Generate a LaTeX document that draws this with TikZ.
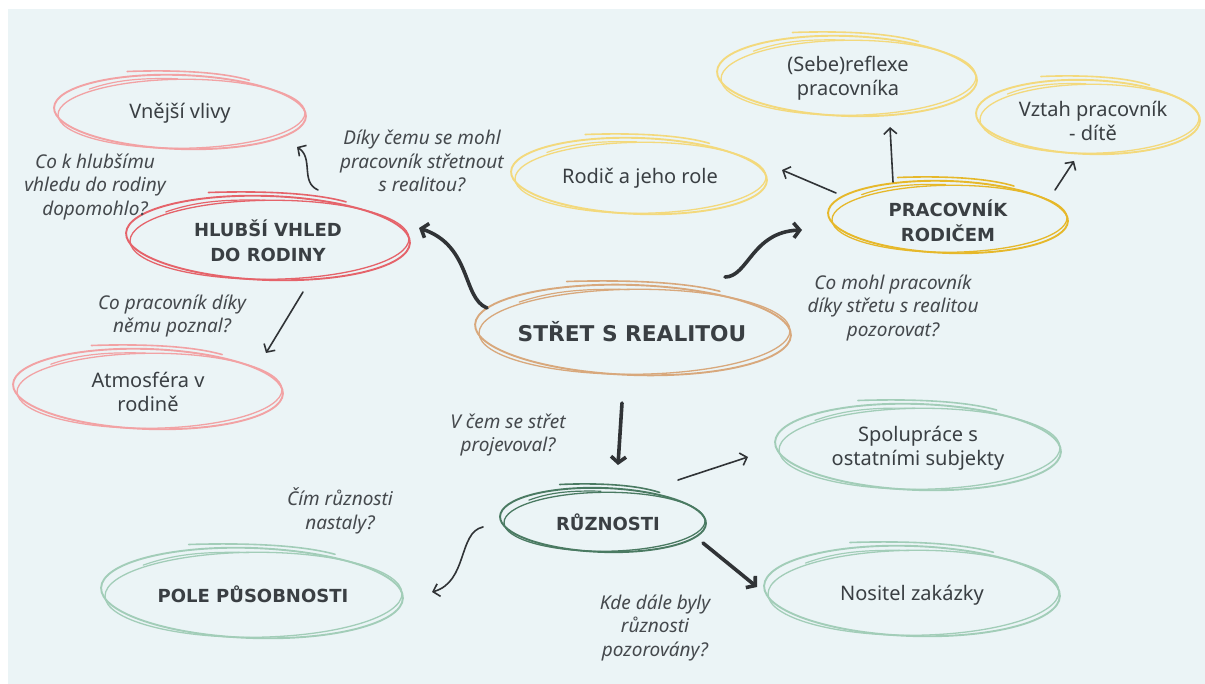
\documentclass[tikz,border=0pt]{standalone}
\usepackage{fontspec}
\setmainfont{Noto Sans}
\newfontfamily\boldfam{DejaVu Sans}
\usetikzlibrary{arrows.meta}
\definecolor{bg}{HTML}{EBF4F6}
\definecolor{txt}{HTML}{3A3F43}
\definecolor{qtxt}{HTML}{45494D}
\definecolor{arr}{HTML}{303336}
\definecolor{redS}{HTML}{E5636A}
\definecolor{pinkS}{HTML}{F2A2A4}
\definecolor{goldS}{HTML}{E6B82A}
\definecolor{yelS}{HTML}{F3D97C}
\definecolor{tanS}{HTML}{D8A87C}
\definecolor{dgreenS}{HTML}{4A7A62}
\definecolor{lgreenS}{HTML}{A2CDB8}
\tikzset{
  lbl/.style={text=txt, align=center, inner sep=0pt, font=\fontsize{20}{24}\selectfont},
  boldlbl/.style={text=txt, align=center, inner sep=0pt, font=\boldfam\bfseries\fontsize{18}{24.5}\selectfont},
  biglbl/.style={text=txt, align=center, inner sep=0pt, font=\boldfam\bfseries\fontsize{21.7}{28}\selectfont},
  qlbl/.style={text=qtxt, align=center, inner sep=0pt, font=\fontsize{19}{23.5}\selectfont\itshape},
  thinarrow/.style={draw=arr, line width=1.6pt, line cap=round, -{Straight Barb[length=6pt,width=13pt]}},
  thickarrow/.style={draw=arr, line width=3.6pt, line cap=round, -{Straight Barb[length=6pt,width=15pt]}},
}
\newcommand\scrib[6]{% name, x, y, rx, ry, colour
  \begin{scope}[shift={(#2,#3)}, draw=#6, line cap=round]
    \draw[line width=1.9pt, rotate=-2] (0,0) ellipse [x radius=#4, y radius=#5];
    \draw[line width=1.3pt, rotate=0.5] (1.5,1.8) ellipse [x radius=#4-2.5, y radius=#5-2.5];
    \draw[line width=1.6pt] ({-0.42*#4},{-#5-3.5}) .. controls ({-0.1*#4},{-#5-5}) and ({0.3*#4},{-#5-4}) .. ({0.55*#4},{-0.86*#5});
    \draw[line width=1.2pt] ({-0.72*#4},{-0.62*#5}) .. controls ({-0.5*#4},{-0.88*#5}) and ({-0.3*#4},{-0.92*#5}) .. ({-0.02*#4},{-0.9*#5});
  \end{scope}
  \coordinate (#1) at (#2,#3);
}
\begin{document}
\begin{tikzpicture}[x=1pt,y=-1pt]
\useasboundingbox (0,0) rectangle (1205,684);
\fill[white] (0,0) rectangle (1205,684);
\fill[bg] (8,9) rectangle (1205,684);

% ellipses
\scrib{eVn}{180}{112}{126}{37}{pinkS}
\scrib{eHl}{268}{238}{142}{42}{redS}
\scrib{eRo}{639}{176}{128}{38}{yelS}
\scrib{eSe}{847}{76}{130}{40}{yelS}
\scrib{eVz}{1088}{117}{112}{37}{yelS}
\scrib{ePr}{948}{217}{120}{36}{goldS}
\scrib{eSt}{633}{330}{158}{45}{tanS}
\scrib{eAt}{148}{389}{135}{40}{pinkS}
\scrib{eRu}{603}{520}{103}{32}{dgreenS}
\scrib{ePo}{252}{593}{151}{45}{lgreenS}
\scrib{eSp}{918}{447}{143}{43}{lgreenS}
\scrib{eNo}{912}{591}{148}{45}{lgreenS}

% texts
\node[lbl] (t1) at (180,113) {Vnější vlivy};
\node[boldlbl] (t2) at (268,241) {HLUBŠÍ VHLED\\DO RODINY};
\node[qlbl] (q1) at (422,161) {Díky čemu se mohl\\pracovník střetnout\\s realitou?};
\node[qlbl] (q2) at (95,187) {Co k hlubšímu\\vhledu do rodiny\\dopomohlo?};
\node[lbl] (t3) at (640,178) {Rodič a jeho role};
\node[lbl] (t4) at (848,78) {(Sebe)reflexe\\pracovníka};
\node[lbl] (t5) at (1093,121) {Vztah pracovník\\- dítě};
\node[boldlbl] (t6) at (948,221) {PRACOVNÍK\\RODIČEM};
\node[qlbl] (q3) at (893,308) {Co mohl pracovník\\díky střetu s realitou\\pozorovat?};
\node[biglbl] (t7) at (632,332) {STŘET S REALITOU};
\node[qlbl] (q4) at (172,316) {Co pracovník díky\\němu poznal?};
\node[lbl] (t8) at (148,392) {Atmosféra v\\rodině};
\node[qlbl] (q5) at (508,435) {V čem se střet\\projevoval?};
\node[boldlbl] (t9) at (608,522) {RŮZNOSTI};
\node[qlbl] (q6) at (340,511) {Čím různosti\\nastaly?};
\node[boldlbl] (t10) at (253,594) {POLE PŮSOBNOSTI};
\node[lbl] (t11) at (918,448) {Spolupráce s\\ostatními subjekty};
\node[lbl] (t12) at (912,595) {Nositel zakázky};
\node[qlbl] (q7) at (655,628) {Kde dále byly\\různosti\\pozorovány?};

% connector endpoints
\coordinate (a1) at (318,190); \coordinate (a2) at (297,147);
\coordinate (b1) at (487,308); \coordinate (b2) at (419,228);
\coordinate (c1) at (725,277); \coordinate (c2) at (802,230);
\coordinate (d1) at (836,193); \coordinate (d2) at (782,170);
\coordinate (e1) at (893,182); \coordinate (e2) at (890,127);
\coordinate (f1) at (1055,190); \coordinate (f2) at (1074,161);
\coordinate (g1) at (303,292); \coordinate (g2) at (266,353);
\coordinate (h1) at (622,403); \coordinate (h2) at (618,465);
\coordinate (i1) at (678,480); \coordinate (i2) at (748,457);
\coordinate (j1) at (703,543); \coordinate (j2) at (757,587);
\coordinate (k1) at (483,527); \coordinate (k2) at (432,592);

\draw[thinarrow] (a1) .. controls (300,182) and (314,158) .. (a2);
\draw[thickarrow] (b1) .. controls (462,298) and (472,246) .. (b2);
\draw[thickarrow] (c1) .. controls (748,277) and (752,232) .. (c2);
\draw[thinarrow] (d1) -- (d2);
\draw[thinarrow] (e1) -- (e2);
\draw[thinarrow] (f1) -- (f2);
\draw[thinarrow] (g1) -- (g2);
\draw[thickarrow] (h1) -- (h2);
\draw[thinarrow] (i1) -- (i2);
\draw[thickarrow] (j1) -- (j2);
\draw[thinarrow] (k1) .. controls (458,532) and (468,582) .. (k2);
\end{tikzpicture}
\end{document}
